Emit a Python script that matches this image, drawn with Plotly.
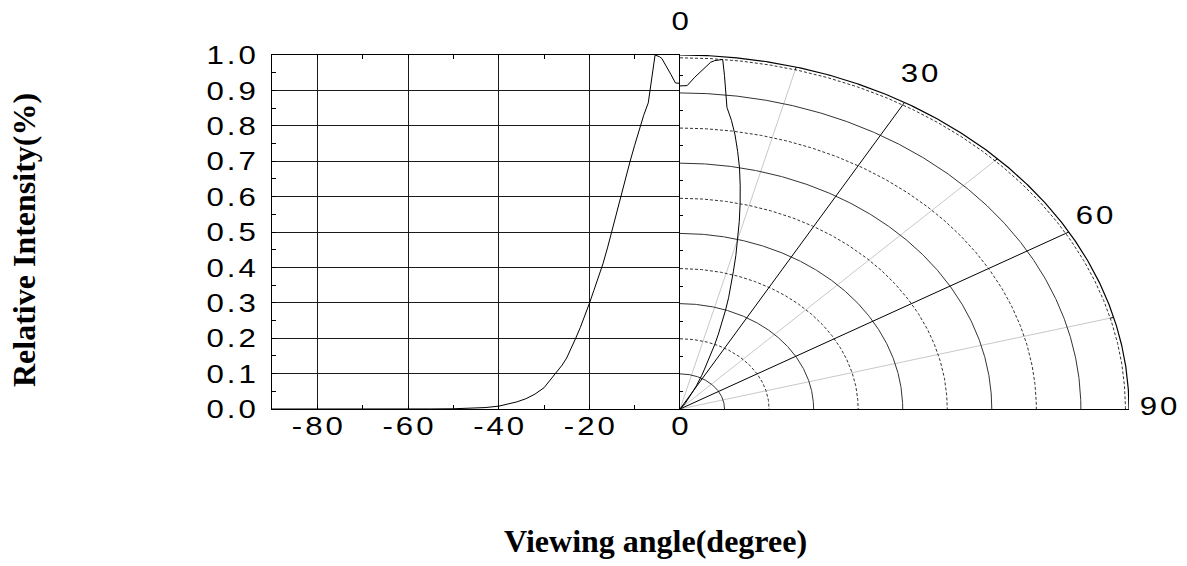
import numpy as np
import plotly.graph_objects as go

# ---- data ----
angle_deg = [0, 1, 2, 3, 4, 4.5, 5, 5.5, 6, 7, 8, 9, 10, 11, 12, 13, 14, 15, 16, 17,
             18, 19, 20, 21, 22, 23, 24, 25, 26, 27, 28, 29, 30, 32, 34, 36, 38, 40,
             43, 46, 50, 55, 60, 70, 80, 90]
rel_intensity = [0.92, 0.921, 0.945, 0.968, 0.99, 0.995, 0.998, 1.0, 0.955, 0.865,
                 0.83, 0.79, 0.745, 0.70, 0.65, 0.60, 0.55, 0.502, 0.455, 0.41,
                 0.37, 0.335, 0.298, 0.262, 0.23, 0.20, 0.171, 0.144, 0.124, 0.108,
                 0.093, 0.077, 0.060, 0.042, 0.029, 0.020, 0.013, 0.008,
                 0.004, 0.002, 0.0007, 0.0002, 0.0, 0.0, 0.0, 0.0]
x_tick_vals = [-80, -60, -40, -20, 0]
x_tick_text = ["-80", "-60", "-40", "-20", "0"]
y_tick_vals = [0.0, 0.1, 0.2, 0.3, 0.4, 0.5, 0.6, 0.7, 0.8, 0.9, 1.0]
y_tick_text = ["0.0", "0.1", "0.2", "0.3", "0.4", "0.5", "0.6", "0.7", "0.8", "0.9", "1.0"]
ring_radii = [0.1, 0.2, 0.3, 0.4, 0.5, 0.6, 0.7, 0.8, 0.9, 1.0]
spoke_angles = [15, 30, 45, 60, 75]
angle_labels = [0, 30, 60, 90]

R_OUT = 1.008
TICK_FONT = dict(family="Liberation Sans, Arial, sans-serif", size=26, color="black")
TITLE_FONT = dict(family="Liberation Serif, Times New Roman, serif", size=32, color="black")

fig = go.Figure()

# ---- left cartesian half ----
fig.add_trace(go.Scatter(x=[-a for a in angle_deg], y=rel_intensity, mode="lines",
                         line=dict(color="black", width=1), xaxis="x", yaxis="y",
                         showlegend=False, hoverinfo="skip"))

# ---- right polar quarter drawn on its own cartesian axes ----
th_grid = np.radians(np.linspace(0, 90, 361))


def polar_xy(r, th_deg):
    th = np.radians(np.asarray(th_deg, dtype=float))
    r = np.asarray(r, dtype=float)
    return r * np.sin(th), r * np.cos(th)


# light grey spokes
for a in spoke_angles:
    if a % 30 != 0:
        sx, sy = polar_xy([0, 1.0], [a, a])
        fig.add_trace(go.Scatter(x=sx, y=sy, mode="lines", line=dict(color="#c8c8c8", width=1),
                                 xaxis="x2", yaxis="y2", showlegend=False, hoverinfo="skip"))
# rings
for i, r in enumerate(ring_radii):
    cx, cy = r * np.sin(th_grid), r * np.cos(th_grid)
    solid = (i % 2 == 0)
    fig.add_trace(go.Scatter(x=cx, y=cy, mode="lines",
                             line=dict(color="#333333", width=1, dash="solid" if solid else "3px,2px"),
                             xaxis="x2", yaxis="y2", showlegend=False, hoverinfo="skip"))
# outer boundary
fig.add_trace(go.Scatter(x=R_OUT * np.sin(th_grid), y=R_OUT * np.cos(th_grid), mode="lines",
                         line=dict(color="black", width=1.2), cliponaxis=False,
                         xaxis="x2", yaxis="y2", showlegend=False, hoverinfo="skip"))
# black spokes + angular ticks
for a in spoke_angles:
    if a % 30 == 0:
        sx, sy = polar_xy([0, 1.0], [a, a])
        fig.add_trace(go.Scatter(x=sx, y=sy, mode="lines", line=dict(color="black", width=1),
                                 xaxis="x2", yaxis="y2", showlegend=False, hoverinfo="skip"))
    tx, ty = polar_xy([1.0, R_OUT], [a, a])
    fig.add_trace(go.Scatter(x=tx, y=ty, mode="lines", line=dict(color="black", width=1),
                             cliponaxis=False, xaxis="x2", yaxis="y2", showlegend=False,
                             hoverinfo="skip"))
# intensity curve in polar form
px_, py_ = polar_xy(rel_intensity, angle_deg)
fig.add_trace(go.Scatter(x=px_, y=py_, mode="lines", line=dict(color="black", width=1),
                         xaxis="x2", yaxis="y2", showlegend=False, hoverinfo="skip"))

# ---- layout ----
W, H = 1187, 566
ML, MR, MT, MB = 272, 58, 55, 157
PW, PH = W - ML - MR, H - MT - MB
split = 408 / PW

annotations = []
for a in angle_labels:
    lx, ly = polar_xy(1.0, a)
    X, Y = float(lx) * 1.075, float(ly) * 1.105
    annotations.append(dict(x=split + X / R_OUT * (1 - split), y=Y / R_OUT,
                            xref="paper", yref="paper", yshift=3 if a == 90 else 0,
                            text=str(a), showarrow=False, font=TICK_FONT,
                            xanchor="center", yanchor="middle"))
annotations.append(dict(x=(655 - ML) / PW, y=(MT + PH - 541) / PH,
                        xref="paper", yref="paper", text="<b>Viewing angle(degree)</b>",
                        showarrow=False, font=TITLE_FONT, xanchor="center", yanchor="middle"))
annotations.append(dict(x=(24 - ML) / PW, y=(MT + PH - 240) / PH,
                        xref="paper", yref="paper", text="<b>Relative Intensity(%)</b>",
                        textangle=-90, showarrow=False, font=TITLE_FONT,
                        xanchor="center", yanchor="middle"))

minor_y = [round(0.05 + 0.1 * k, 2) for k in range(10)]

fig.update_layout(
    width=W, height=H,
    margin=dict(l=ML, r=MR, t=MT, b=MB),
    paper_bgcolor="white", plot_bgcolor="white",
    showlegend=False,
    xaxis=dict(domain=[0, split], range=[-90, 0], anchor="y",
               tickmode="array", tickvals=x_tick_vals, ticktext=x_tick_text,
               showgrid=True, gridcolor="#1a1a1a", gridwidth=1, zeroline=False,
               showline=True, linecolor="black", linewidth=1, mirror="allticks",
               ticks="inside", ticklen=4, tickcolor="black", ticklabelstandoff=-6,
               minor=dict(tickvals=[-70, -50, -30, -10], ticks="inside", ticklen=4,
                          tickcolor="black", showgrid=False),
               tickfont=TICK_FONT, fixedrange=True),
    yaxis=dict(domain=[0, 1], range=[0, 1.0], anchor="x",
               tickmode="array", tickvals=y_tick_vals, ticktext=y_tick_text,
               showgrid=True, gridcolor="#1a1a1a", gridwidth=1, zeroline=False,
               showline=True, linecolor="black", linewidth=1, mirror=False,
               ticks="inside", ticklen=4, tickcolor="black", ticklabelstandoff=10,
               minor=dict(tickvals=minor_y, ticks="inside", ticklen=4,
                          tickcolor="black", showgrid=False),
               tickfont=TICK_FONT, fixedrange=True),
    xaxis2=dict(domain=[split, 1], range=[0, R_OUT], anchor="y2",
                showgrid=False, zeroline=False, showticklabels=False, ticks="",
                showline=True, linecolor="black", linewidth=1, fixedrange=True),
    yaxis2=dict(domain=[0, 1], range=[0, R_OUT], anchor="x2", side="left",
                showgrid=False, zeroline=False, showticklabels=False, ticks="",
                showline=True, linecolor="black", linewidth=1.2,
                minor=dict(tickvals=minor_y, ticks="inside", ticklen=3, tickcolor="black"),
                fixedrange=True),
    annotations=annotations,
)

# The reference artwork is horizontally stretched; widen numeric labels the same way.
post = """
document.body.style.margin = '0';
var gd = document.getElementById('{plot_id}');
var K = 1.2, LS = 2.5;
gd.querySelectorAll('.xtick text, .ytick text, .annotation-text').forEach(function(t){
  if (/^-?[0-9.]+$/.test(t.textContent)) {
    t.style.letterSpacing = LS + 'px';
    var x = parseFloat(t.getAttribute('x') || '0');
    var anchor = t.getAttribute('text-anchor') || 'start';
    var shift = anchor === 'middle' ? LS / 2 * K : (anchor === 'end' ? LS * K : 0);
    var tr = t.getAttribute('transform') || '';
    t.setAttribute('transform', tr + ' translate(' + (x + shift) + ',0) scale(' + K + ',1) translate(' + (-x) + ',0)');
  }
});
"""
fig.write_html("out.html", post_script=post, config={"displayModeBar": False})
